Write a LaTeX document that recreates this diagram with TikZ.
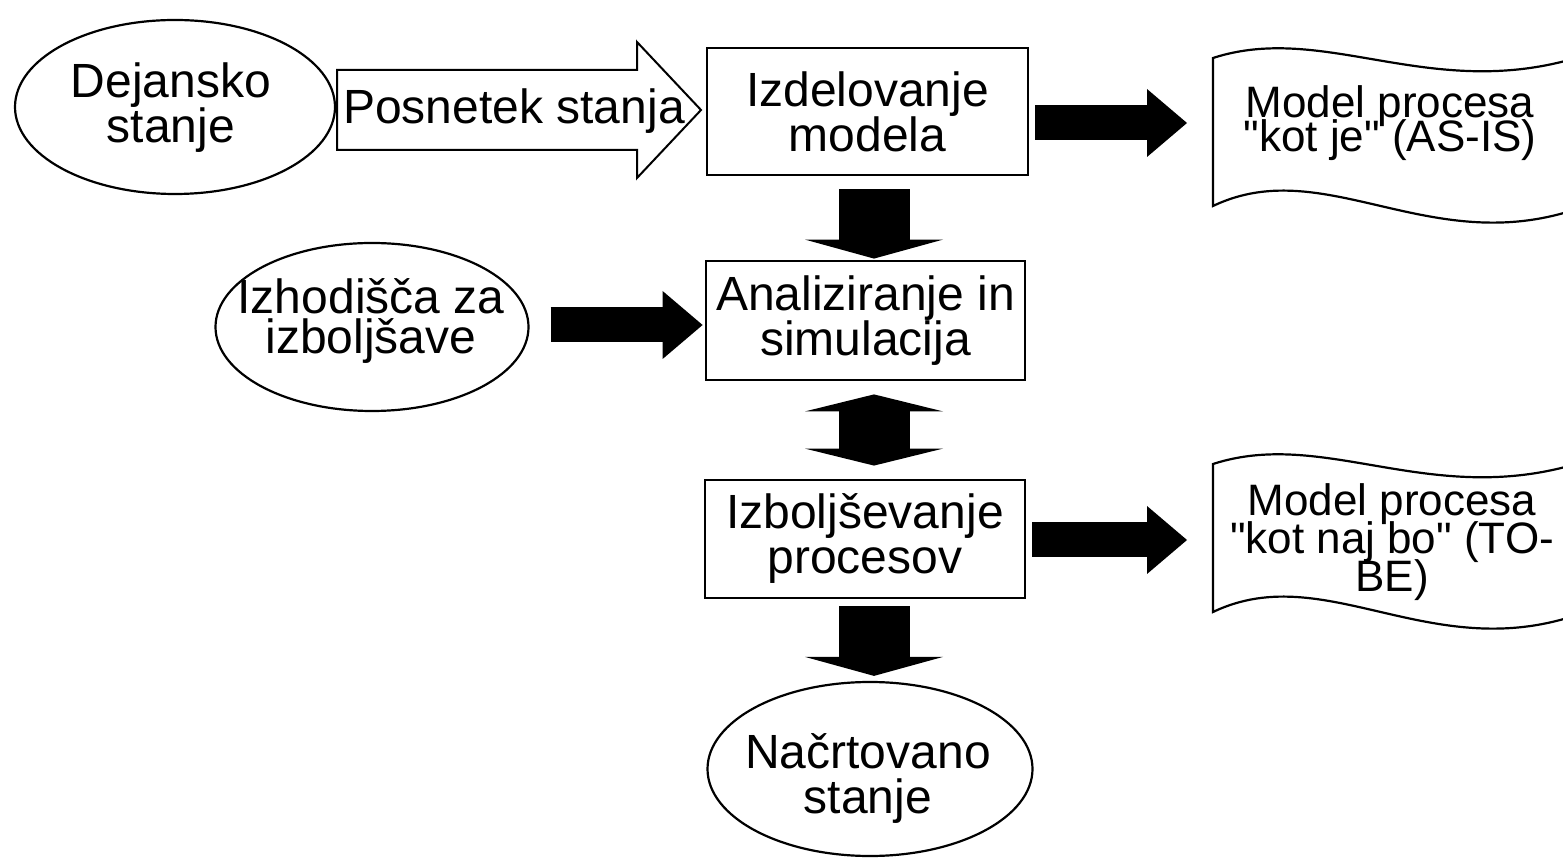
\documentclass[tikz,border=0pt]{standalone}
\usepackage{fontspec}
\newfontfamily\arialf{Liberation Sans}
\usetikzlibrary{arrows.meta,shapes.geometric}
\begin{document}
\lineskiplimit=-100pt
\begin{tikzpicture}[x=0.5pt,y=-0.5pt,
  txt/.style={align=center,inner sep=0pt},
  fs/.style={font=\arialf\fontsize{24pt}{#1}\selectfont},
  fsd/.style={font=\arialf\fontsize{22pt}{#1}\selectfont},
  procbox/.style={draw,line width=1.4pt,inner sep=0pt,txt},
  oval/.style={draw,ellipse,line width=1.1pt,inner sep=0pt},
  docline/.style={draw,line width=1.1pt,fill=white},
  blockarrow/.style={draw,line width=1pt,fill=white,line join=miter},
  fatR/.style={line width=17.5pt,-{Triangle[length=20pt,width=34pt,line width=0pt]}},
  fatD/.style={line width=35.5pt,-{Triangle[length=9.5pt,width=69pt,line width=0pt]}},
  fatDD/.style={line width=35.5pt,{Triangle[length=8.5pt,width=69pt,line width=0pt]}-{Triangle[length=8.5pt,width=69pt,line width=0pt]}},
  docshape/.pic={
    \draw[docline] (1213,58) .. controls (1330,20) and (1440,110) .. (1600,50)
      -- (1600,200) .. controls (1440,270) and (1330,150) .. (1213,206) -- cycle;
  }
]
\lineskiplimit=-100pt
\useasboundingbox[fill=white] (0,0) rectangle (1563,860);

% documents (cut by the right edge)
\begin{scope}
  \clip (0,0) rectangle (1563,860);
  \pic at (0,0) {docshape};
  \pic at (0,406) {docshape};
\end{scope}
\node[txt,fsd=17pt] (doc1) at (1390,123) {Model procesa\\"kot je" (AS-IS)};
\node[txt,fsd=19pt] (doc2) at (1392,542) {Model procesa\\"kot naj bo" (TO-\\BE)};
\coordinate (d1) at (1213,123);
\coordinate (d2) at (1213,540);

% ellipses
\node[oval,minimum width=160pt,minimum height=87pt,
  label={[txt,fs=22.5pt,xshift=-2pt,yshift=-0.5pt]center:{Dejansko\\stanje}}] (dej) at (175,107) {};
\node[oval,minimum width=156.5pt,minimum height=84pt,
  label={[txt,fs=20pt,xshift=-0.5pt,yshift=3pt]center:{Izhodišča za\\izboljšave}}] (izh) at (372,327) {};
\node[oval,minimum width=162.5pt,minimum height=87pt,
  label={[txt,fs=22.5pt,xshift=-1pt,yshift=-5pt]center:{Načrtovano\\stanje}}] (nac) at (870,769) {};

% process boxes
\node[procbox,fs=22.5pt,minimum width=160.5pt,minimum height=63.5pt] (izd) at (867.5,111.5) {Izdelovanje\\modela};
\node[procbox,fs=22.5pt,minimum width=159.5pt,minimum height=59.5pt] (anl) at (865.5,320.5) {Analiziranje in\\simulacija};
\node[procbox,fs=22.5pt,minimum width=160pt,minimum height=59pt] (imp) at (865,539) {Izboljševanje\\procesov};

% outlined block arrow with text
\draw[blockarrow] (337,70) -- (637,70) -- (637,42) -- (701,110) -- (637,178) -- (637,150) -- (337,150) -- cycle;
\node[txt,fs=22.5pt] (posn) at (514,111) {Posnetek stanja};

% black arrows
\coordinate (ax) at (874,0);
\coordinate (iy) at (0,325);
\draw[fatR] ([xshift=3pt]izd.east |- d1) -- ([xshift=-13pt]d1);
\draw[fatR] ([xshift=3pt]imp.east |- d2) -- ([xshift=-13pt]d2);
\draw[fatR] ([xshift=10.5pt]izh.east |- iy) -- ([xshift=-1pt]anl.west |- iy);
\draw[fatD] ([yshift=-6.5pt]izd.south -| ax) -- ([yshift=0.5pt]anl.north -| ax);
\draw[fatDD] ([yshift=-6.5pt]anl.south -| ax) -- ([yshift=6.5pt]imp.north -| ax);
\draw[fatD] ([yshift=-3.5pt]imp.south -| ax) -- ([yshift=2.5pt]nac.north -| ax);
\end{tikzpicture}
\end{document}
